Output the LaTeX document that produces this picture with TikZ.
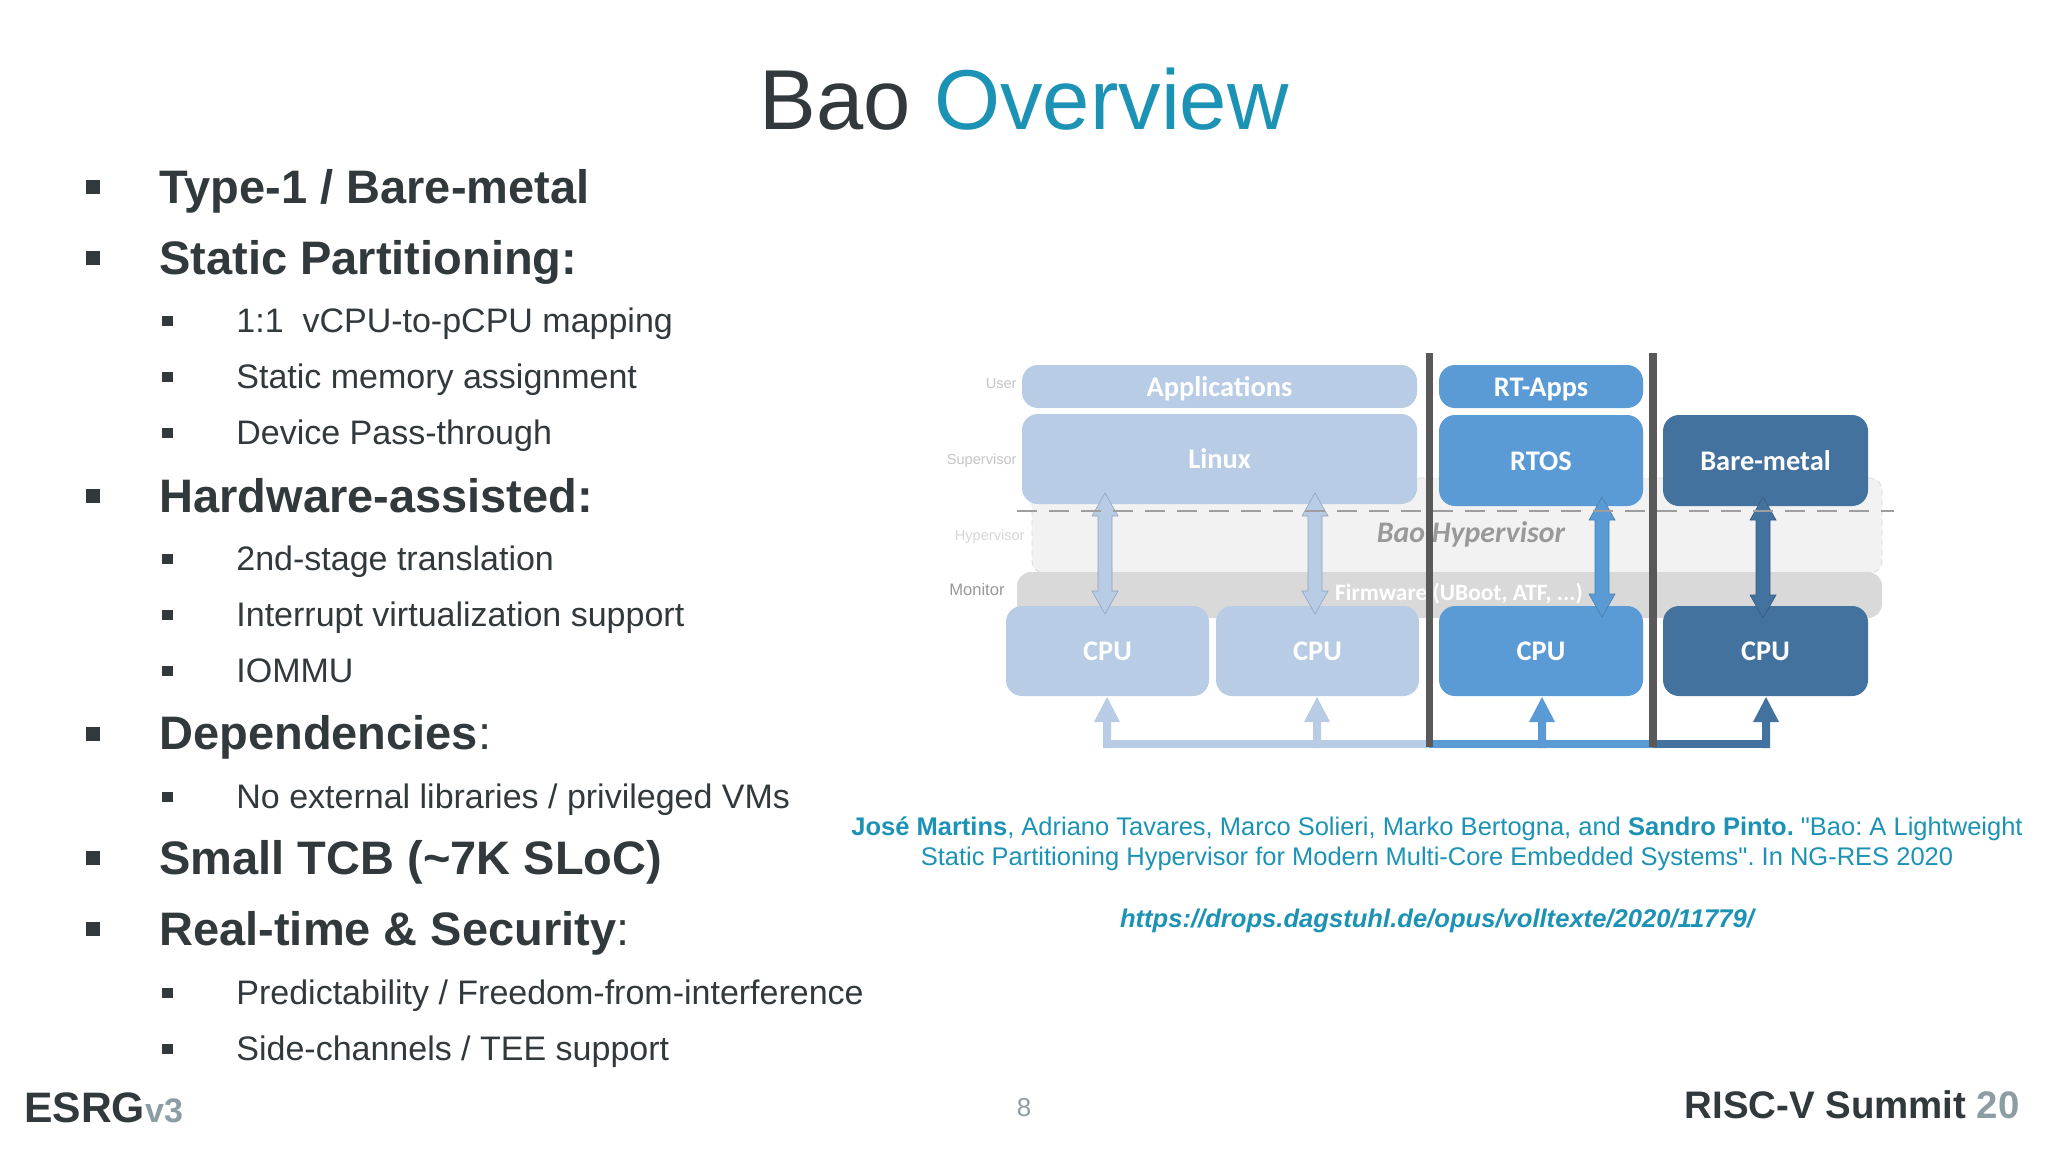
\documentclass[tikz,border=0pt]{standalone}
\usepackage{fontspec}
\setmainfont{Liberation Sans}
\newfontfamily\plainq{Liberation Sans}
\newfontfamily\dia{Carlito}
\usetikzlibrary{arrows.meta}
\frenchspacing
\definecolor{txt}{HTML}{32393C}
\definecolor{teal}{HTML}{1C93B5}
\definecolor{gry}{HTML}{8C9DA3}
\definecolor{lgt}{HTML}{B8CCE6}
\definecolor{mid}{HTML}{5B9BD5}
\definecolor{drk}{HTML}{44729F}
\definecolor{bar}{HTML}{595959}
\definecolor{hyp}{HTML}{F2F2F2}
\definecolor{fw}{HTML}{D9D9D9}
\definecolor{lab}{HTML}{C4C4C4}
\newcommand{\fz}[1]{\fontsize{#1}{#1}\selectfont}
\newcommand{\sq}{{\plainq\char34}}
\tikzset{
 x=0.5pt,y=-0.5pt,
 big/.style={anchor=base west,inner sep=0,text=txt,font=\fz{23.5}\bfseries},
 sub/.style={anchor=base west,inner sep=0,text=txt,font=\fz{17}},
 bu/.style={fill=txt,minimum size=7pt,inner sep=0,anchor=center},
 bs/.style={fill=txt,minimum width=5.5pt,minimum height=5pt,inner sep=0,anchor=center},
 blk/.style={rounded corners=8pt,draw=none},
 blktxt/.style={text=white,font=\dia\fz{14.2}\bfseries,inner sep=0,anchor=base},
 lvl/.style={inner sep=0,anchor=east,text=lab,font=\fz{7.3}},
 dbl/.style={draw=#1!80!black,line width=0.3pt,fill=#1},
 ref/.style={inner sep=0,text=teal,font=\fz{12.75},anchor=base},
}
\newcommand{\boxat}[7]{\path[blk,fill=#6] (#2,#3) rectangle (#4,#5); \node[blktxt] (#1) at ({(#2+#4)/2},{(#3+#5)/2+9.5}) {#7};}
\newcommand{\dblarrow}[4]{\path[dbl=#4] (#1,#2) -- ++(13,23) -- ++(-6,0) -- (#1+7,#3-23) -- ++(6,0) -- (#1,#3) -- ++(-13,-23) -- ++(6,0) -- (#1-7,#2+23) -- ++(-6,0) -- cycle;}
\newcommand{\uparr}[2]{\path[fill=#2] (#1,697) -- (#1+13,722) -- (#1+4,722) -- (#1+4,748) -- (#1-4,748) -- (#1-4,722) -- (#1-13,722) -- cycle;}
\begin{document}
\begin{tikzpicture}
\useasboundingbox (0,0) rectangle (2048,1152);
\path[fill=white] (0,0) rectangle (2048,1152);
% title
\node[anchor=base,inner sep=0,font=\fz{42.5}] (title) at (1024,129) {\textcolor{txt}{Bao} \textcolor{teal}{Overview}};
% bullets
\foreach \y/\t in {187/{Type-1 / Bare-metal},258/{Static Partitioning:},496/{Hardware-assisted:},858/{Small TCB (\textasciitilde 7K SLoC)}}{
 \node[big] at (159,\y+16) {\t};
 \node[bu] at (93,\y) {};
}
\node[big] at (159,749) {Dependencies\textmd{:}}; \node[bu] at (93,734) {};
\node[big] at (159,945) {Real-time \& Security\textmd{:}}; \node[bu] at (93,929) {};
\foreach \y/\t in {321/{1:1~ vCPU-to-pCPU mapping},377/{Static memory assignment},433/{Device Pass-through},559/{2nd-stage translation},615/{Interrupt virtualization support},671/{IOMMU},797/{No external libraries / privileged VMs},993/{Predictability / Freedom-from-interference},1049/{Side-channels / TEE support}}{
 \node[sub] at (236,\y+11) {\t};
 \node[bs] at (167,\y) {};
}
% hypervisor + firmware layers
\path[fill=hyp,draw=fw,densely dashed,line width=0.4pt,rounded corners=6pt] (1032,478) rectangle (1882,573);
\path[fill=fw,rounded corners=7pt] (1017,572) rectangle (1882,618);
\node[inner sep=0,anchor=base,text=black!40,font=\dia\fz{14.9}\bfseries\itshape] (bao) at (1471,542) {Bao Hypervisor};
\node[inner sep=0,anchor=base,text=white,font=\dia\fz{11.7}\bfseries] (fwt) at (1459,600) {Firmware (UBoot, ATF, ...)};
% level labels
\node[lvl] (u) at (1017,384) {User};
\node[lvl] (s) at (1017,461) {Supervisor};
\node[lvl,text=lab!70] (h) at (1025,537) {Hypervisor};
\node[lvl,text=black!40,font=\fz{8.3}] (m) at (1005,590) {Monitor};
% blocks
\boxat{apps}{1022}{365}{1417}{408}{lgt}{Applications}
\boxat{linux}{1022}{414}{1417}{504}{lgt}{Linux}
\boxat{rtapps}{1439}{365}{1643}{408}{mid}{RT-Apps}
\boxat{rtos}{1439}{415}{1643}{506}{mid}{RTOS}
\boxat{bare}{1663}{415}{1868}{506}{drk}{Bare-metal}
\boxat{c1}{1006}{606}{1209}{696}{lgt}{CPU}
\boxat{c2}{1216}{606}{1419}{696}{lgt}{CPU}
\boxat{c3}{1439}{606}{1643}{696}{mid}{CPU}
\boxat{c4}{1663}{606}{1868}{696}{drk}{CPU}
% double arrows
\dblarrow{1105}{493}{614}{lgt}
\dblarrow{1315}{493}{614}{lgt}
\dblarrow{1602}{497}{617}{mid}
\dblarrow{1763}{497}{618}{drk}
% bus
\path[fill=lgt] (1103,740) rectangle (1429,748);
\path[fill=mid] (1429,740) rectangle (1653,748);
\path[fill=drk] (1653,740) rectangle (1770,748);
\uparr{1107}{lgt}\uparr{1317}{lgt}\uparr{1542}{mid}\uparr{1766}{drk}
% dividers
\path[fill=bar] (1426,353) rectangle (1433,747);
\path[fill=bar] (1649,353) rectangle (1657,747);
% dashed
\coordinate (dl) at (1017,511); \coordinate (dr) at (1894,511);
\draw[black!38,line width=1.4pt,dash pattern=on 10pt off 6pt] (dl) -- (dr);
% reference
\node[ref] (r1) at (1437,835) {\textbf{José Martins}, Adriano Tavares, Marco Solieri, Marko Bertogna, and \textbf{Sandro Pinto.} \sq Bao: A Lightweight};
\node[ref] (r2) at (1437,865) {Static Partitioning Hypervisor for Modern Multi-Core Embedded Systems\sq. In NG-RES 2020};
\node[ref,font=\fz{12.8}\bfseries\itshape] (r3) at (1437,927) {https://drops.dagstuhl.de/opus/volltexte/2020/11779/};
% footer
\node[anchor=base west,inner sep=0,font=\fz{21.3}\bfseries,text=txt] (esrg) at (24,1122) {ESRG\textcolor{gry}{\fz{17}v3}};
\node[anchor=base,inner sep=0,font=\fz{13},text=gry] (pg) at (1024,1116) {8};
\node[anchor=base east,inner sep=0,font=\fz{19.2}\bfseries,text=txt] (rv) at (2020,1118) {RISC-V Summit \textcolor{gry}{20}};
\end{tikzpicture}
\end{document}
